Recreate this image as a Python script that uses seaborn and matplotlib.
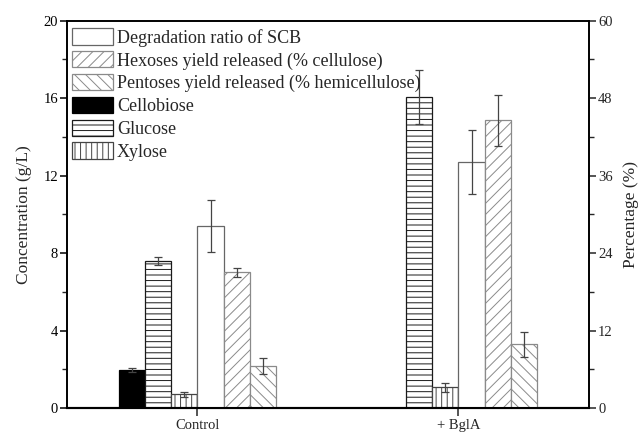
import numpy as np
import pandas as pd
import matplotlib
matplotlib.use("Agg")
import matplotlib.pyplot as plt
from matplotlib.patches import Patch
from matplotlib.ticker import MultipleLocator
import seaborn as sns

# ---------------- data ----------------
categories = ["Control", "+ BglA"]

# concentrations (g/L), left axis
cellobiose = [1.96, 0.0]
cellobiose_err = [0.10, 0.0]
glucose = [7.58, 16.05]
glucose_err = [0.22, 1.40]
xylose = [0.70, 1.07]
xylose_err = [0.14, 0.22]

# percentages (%), right axis
degradation = [28.2, 38.1]
degradation_err = [4.1, 4.9]
hexoses = [21.0, 44.6]
hexoses_err = [0.65, 3.95]
pentoses = [6.5, 9.9]
pentoses_err = [1.3, 1.95]

series_names = ["Cellobiose", "Glucose", "Xylose",
                "Degradation ratio of SCB",
                "Hexoses yield released (% cellulose)",
                "Pentoses yield released (% hemicellulose)"]

# ---------------- style ----------------
sns.set_style("ticks")
plt.rcParams["font.family"] = ["Liberation Serif", "DejaVu Serif"]
plt.rcParams["hatch.linewidth"] = 0.7
plt.rcParams["axes.linewidth"] = 1.2

styles = {
    "Cellobiose": dict(face="black", edge="black", hatch=""),
    "Glucose": dict(face="white", edge="#1a1a1a", hatch="---"),
    "Xylose": dict(face="white", edge="#444444", hatch="|||"),
    "Degradation ratio of SCB": dict(face="white", edge="#666666", hatch=""),
    "Hexoses yield released (% cellulose)": dict(face="white", edge="#8a8a8a", hatch="///"),
    "Pentoses yield released (% hemicellulose)": dict(face="white", edge="#8a8a8a", hatch="\\\\\\"),
}
palette = {k: v["face"] for k, v in styles.items()}

fig = plt.figure(figsize=(6.38, 4.34), dpi=100)
ax1 = fig.add_axes([0.1050, 0.0599, 0.8182, 0.8924])
ax2 = ax1.twinx()

def draw(ax, name, vals, errs):
    df = pd.DataFrame({"group": categories, "value": vals, "series": name})
    n0 = len(ax.patches)
    sns.barplot(data=df, x="group", y="value", hue="series",
                order=categories, hue_order=series_names, palette=palette,
                width=0.6, dodge=True, saturation=1, errorbar=None,
                legend=False, ax=ax, zorder=2)
    new = sorted(ax.patches[n0:], key=lambda p: p.get_x())
    st = styles[name]
    for p in new:
        p.set_facecolor(st["face"])
        p.set_edgecolor(st["edge"])
        p.set_hatch(st["hatch"])
        p.set_linewidth(0.9)
    xs, hs, es = [], [], []
    for p, e in zip(new, errs):
        if e > 0:
            xs.append(p.get_x() + p.get_width() / 2)
            hs.append(p.get_height())
            es.append(e)
    ax.errorbar(xs, hs, yerr=es, fmt="none", ecolor="#444444",
                elinewidth=0.9, capsize=2.8, capthick=0.9, zorder=5)

draw(ax1, "Cellobiose", cellobiose, cellobiose_err)
draw(ax1, "Glucose", glucose, glucose_err)
draw(ax1, "Xylose", xylose, xylose_err)
draw(ax2, "Degradation ratio of SCB", degradation, degradation_err)
draw(ax2, "Hexoses yield released (% cellulose)", hexoses, hexoses_err)
draw(ax2, "Pentoses yield released (% hemicellulose)", pentoses, pentoses_err)

ax1.set_xlim(-0.5, 1.5)
ax1.set_ylim(0, 20)
ax2.set_ylim(0, 60)
ax1.yaxis.set_major_locator(MultipleLocator(4))
ax1.yaxis.set_minor_locator(MultipleLocator(2))
ax2.yaxis.set_major_locator(MultipleLocator(12))
ax2.yaxis.set_minor_locator(MultipleLocator(6))

ax1.set_xlabel("")
ax1.set_ylabel("Concentration (g/L)", fontsize=12.5)
ax2.set_ylabel("Percentage (%)", fontsize=12.5)
ax1.yaxis.set_label_coords(-0.067, 0.5)
ax2.yaxis.set_label_coords(1.066, 0.5)

ax1.tick_params(axis="y", which="major", length=5, width=1.1, pad=1.5, labelsize=10.5, colors="black")
ax1.tick_params(axis="y", which="minor", length=3.5, width=1.0)
ax2.tick_params(axis="y", which="major", length=5, width=1.1, pad=1.5, labelsize=10.5)
ax2.tick_params(axis="y", which="minor", length=3.5, width=1.0)
ax1.tick_params(axis="x", which="major", length=5.5, width=1.1, pad=2.5, labelsize=10.5)
ax2.tick_params(axis="x", which="both", length=0)

for ax in (ax1, ax2):
    for s in ax.spines.values():
        s.set_visible(True)
        s.set_color("black")
        s.set_linewidth(1.2)
    ax.grid(False)
ax1.spines["bottom"].set_linewidth(1.5)
ax2.spines["bottom"].set_linewidth(1.5)

labels = ["Degradation ratio of SCB",
          "Hexoses yield released (% cellulose)",
          "Pentoses yield released (% hemicellulose)",
          "Cellobiose", "Glucose", "Xylose"]
handles = [Patch(facecolor=styles[n]["face"], edgecolor=styles[n]["edge"],
                 hatch=styles[n]["hatch"], linewidth=0.9) for n in labels]
leg = ax2.legend(handles, labels, loc="upper left", bbox_to_anchor=(0.0096, 0.980),
                 frameon=False, fontsize=13, handlelength=2.27, handleheight=1.0,
                 handletextpad=0.22, labelspacing=0.25, borderpad=0, borderaxespad=0)
leg.set_zorder(1)

fig.savefig("out.png", dpi=100)
